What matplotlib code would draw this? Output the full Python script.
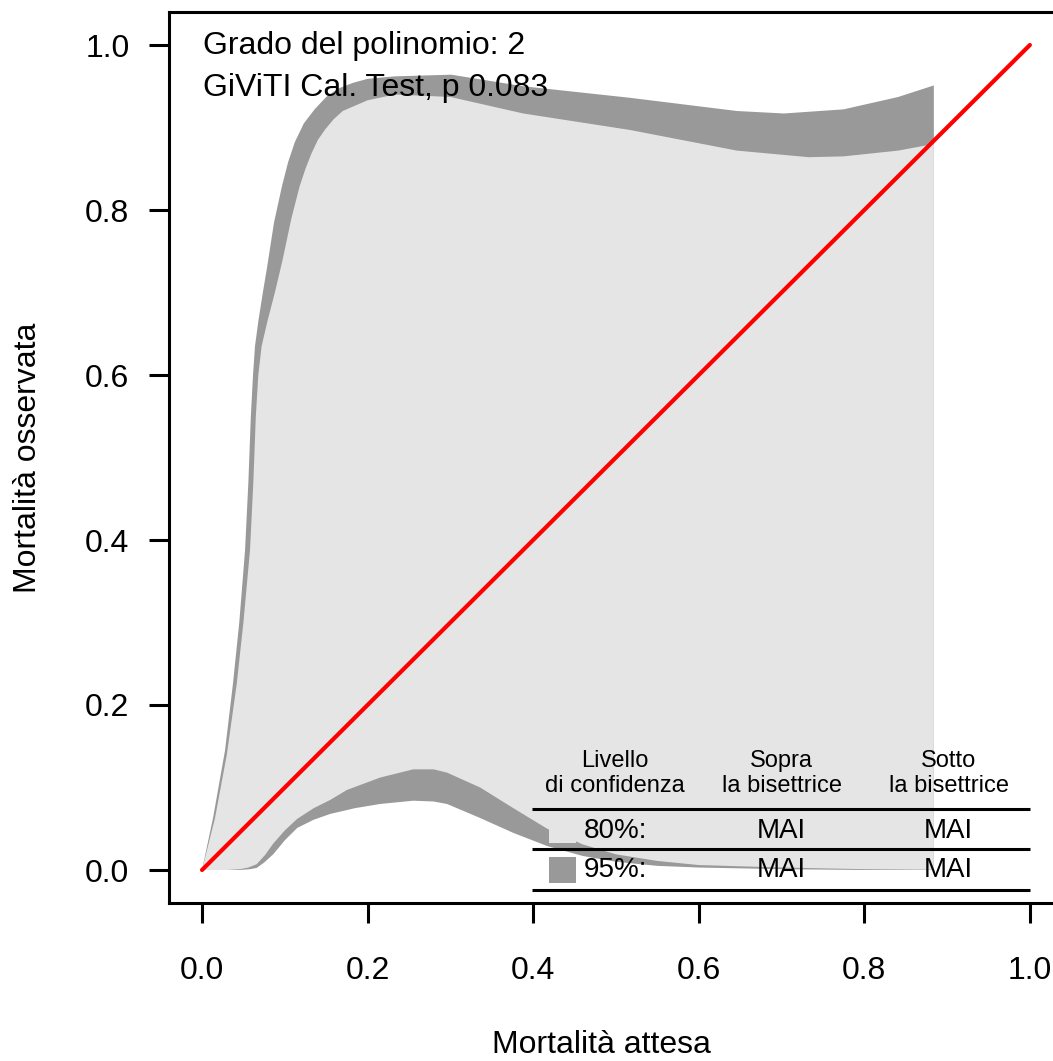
import matplotlib
matplotlib.use("Agg")
import matplotlib.pyplot as plt

plt.rcParams['font.family'] = ['Liberation Sans', 'DejaVu Sans']

# ---- data (belt boundaries as traced points) ----
upper95_x = [0.0, 0.0133, 0.0278, 0.0374, 0.045, 0.052, 0.056, 0.059, 0.0616, 0.064, 0.068,
             0.0735, 0.0785, 0.087, 0.0966, 0.104, 0.112, 0.123, 0.136, 0.150, 0.164,
             0.182, 0.200, 0.233, 0.301, 0.388, 0.517, 0.646, 0.703, 0.775, 0.841, 0.884]
upper95_y = [0.0, 0.063, 0.145, 0.226, 0.300, 0.388, 0.470, 0.550, 0.600, 0.635, 0.665,
             0.700, 0.730, 0.785, 0.829, 0.858, 0.882, 0.905, 0.922, 0.937, 0.947,
             0.954, 0.959, 0.962, 0.964, 0.950, 0.936, 0.920, 0.917, 0.922, 0.937, 0.951]
upper80_x = [0.0, 0.0157, 0.030, 0.042, 0.050, 0.058, 0.062, 0.065, 0.068, 0.072, 0.079,
             0.088, 0.097, 0.108, 0.118, 0.125, 0.132, 0.140, 0.149, 0.159, 0.170,
             0.200, 0.233, 0.300, 0.388, 0.517, 0.646, 0.733, 0.775, 0.841, 0.884]
upper80_y = [0.0, 0.063, 0.140, 0.226, 0.300, 0.388, 0.470, 0.550, 0.600, 0.635, 0.665,
             0.700, 0.738, 0.790, 0.829, 0.850, 0.868, 0.885, 0.898, 0.910, 0.920,
             0.933, 0.940, 0.937, 0.917, 0.897, 0.872, 0.864, 0.865, 0.872, 0.880]
lower80_x = [0.0, 0.030, 0.046, 0.056, 0.066, 0.076, 0.086, 0.100, 0.115, 0.135, 0.155,
             0.175, 0.215, 0.255, 0.280, 0.296, 0.336, 0.376, 0.417, 0.460, 0.500,
             0.550, 0.600, 0.700, 0.800, 0.884]
lower80_y = [0.0, 0.0, 0.001, 0.003, 0.007, 0.018, 0.032, 0.048, 0.062, 0.075, 0.085,
             0.097, 0.112, 0.122, 0.122, 0.118, 0.100, 0.075, 0.050, 0.031, 0.019,
             0.011, 0.006, 0.003, 0.001, 0.0003]
lower95_x = [0.0, 0.046, 0.058, 0.066, 0.075, 0.086, 0.100, 0.115, 0.135, 0.155, 0.185,
             0.215, 0.255, 0.280, 0.296, 0.336, 0.376, 0.417, 0.460, 0.500, 0.550,
             0.600, 0.700, 0.800, 0.884]
lower95_y = [0.0, 0.0, 0.001, 0.0025, 0.009, 0.019, 0.036, 0.051, 0.061, 0.068, 0.075,
             0.080, 0.084, 0.083, 0.080, 0.063, 0.045, 0.029, 0.017, 0.010, 0.005,
             0.003, 0.001, 0.0, 0.0]
bisector = [0.0, 1.0]

x_ticks = [0.0, 0.2, 0.4, 0.6, 0.8, 1.0]
y_ticks = [0.0, 0.2, 0.4, 0.6, 0.8, 1.0]

info_lines = ["Grado del polinomio: 2", "GiViTI Cal. Test, p 0.083"]
table_header = ["Livello\ndi confidenza", "Sopra\nla bisettrice", "Sotto\nla bisettrice"]
table_levels = ["80%:", "95%:"]
table_above = ["MAI", "MAI"]
table_below = ["MAI", "MAI"]

col_dark = "#999999"
col_light = "#E5E5E5"

W, H = 1053, 1061
fig = plt.figure(figsize=(W / 100, H / 100), dpi=100)
ax = fig.add_axes([168.9 / W, (H - 903) / H, (1063 - 168.9) / W, 891 / H])
ax.set_xlim(-0.04, 1.04)
ax.set_ylim(-0.04, 1.04)

# belts: 95% (dark) first, 80% (light) on top
ax.fill(upper95_x + lower95_x[::-1], upper95_y + lower95_y[::-1],
        facecolor=col_dark, edgecolor='none', zorder=1)
ax.fill(upper80_x + lower80_x[::-1], upper80_y + lower80_y[::-1],
        facecolor=col_light, edgecolor='none', zorder=2)

# legend table
cols = [0.499, 0.700, 0.902]
for j in range(3):
    ax.text(cols[j], 0.117, table_header[j], ha='center', va='center', fontsize=17,
            linespacing=1.15, zorder=5)
row_y = [0.047, 0.0]
for i in range(2):
    ax.text(cols[0], row_y[i], table_levels[i], ha='center', va='center', fontsize=20, zorder=5)
    ax.text(cols[1], row_y[i], table_above[i], ha='center', va='center', fontsize=20, zorder=5)
    ax.text(cols[2], row_y[i], table_below[i], ha='center', va='center', fontsize=20, zorder=5)
for yl in [0.074, 0.0255, -0.0243]:
    ax.plot([0.3986, 1.0], [yl, yl], color='black', lw=2.2, solid_capstyle='butt', zorder=5)
ax.add_patch(plt.Rectangle((0.419, 0.033), 0.033, 0.031, facecolor=col_light,
                           edgecolor='none', zorder=4))
ax.add_patch(plt.Rectangle((0.419, -0.016), 0.033, 0.032, facecolor=col_dark,
                           edgecolor='none', zorder=4))

# bisector
ax.plot(bisector, bisector, color='#FF0000', lw=3.0, solid_capstyle='round', zorder=6)

# info text
ax.text(0.001, 0.989, info_lines[0], ha='left', va='baseline', fontsize=23, zorder=7)
ax.text(0.001, 0.938, info_lines[1], ha='left', va='baseline', fontsize=23, zorder=7)

# axes styling
for s in ax.spines.values():
    s.set_linewidth(2.2)
ax.set_xticks(x_ticks)
ax.set_yticks(y_ticks)
ax.set_xticklabels([f"{v:.1f}" for v in x_ticks])
ax.set_yticklabels([f"{v:.1f}" for v in y_ticks])
ax.tick_params(axis='both', direction='out', length=14.4, width=2.2, labelsize=23)
ax.tick_params(axis='x', pad=24)
ax.tick_params(axis='y', pad=14)

ax.set_xlabel("Mortalità attesa", fontsize=23, va='center')
ax.xaxis.set_label_coords((601 - 168.9) / 894.1, (903 - 1045) / 891)
ax.set_ylabel("Mortalità osservata", fontsize=23, va='center')
ax.yaxis.set_label_coords((28 - 168.9) / 894.1, 0.5)

fig.savefig("out.png", dpi=100)
